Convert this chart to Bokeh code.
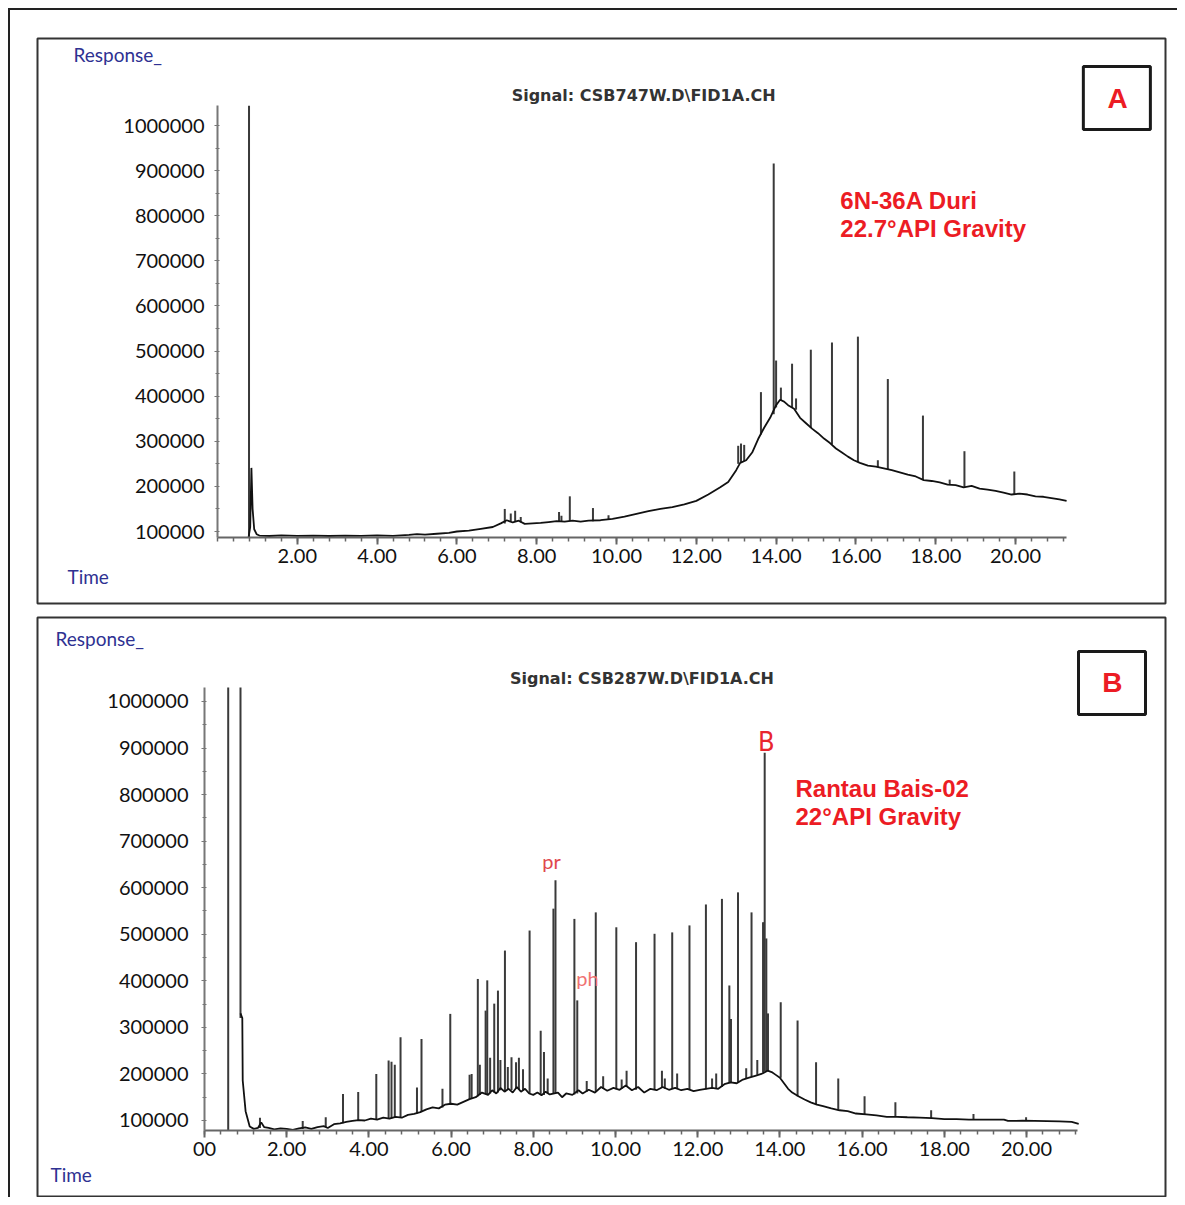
from bokeh.plotting import figure
from bokeh.layouts import column
from bokeh.models import Label, BoxAnnotation, FixedTicker, ColumnDataSource, CustomJSTickFormatter
from bokeh.embed import file_html
from bokeh.resources import INLINE

# ---------------- Panel A data (6N-36A Duri) ----------------
a_base_t = [0.78, 0.82, 0.85, 0.88, 0.92, 0.98, 1.05, 1.3, 1.6, 2.0, 2.4, 2.8, 3.2, 3.6, 4.0, 4.4, 4.8, 5.0,
            5.2, 5.5, 5.8, 6.0, 6.3, 6.6, 6.9, 7.1, 7.25, 7.4, 7.55, 7.7, 7.9, 8.1, 8.3, 8.5, 8.7, 8.9, 9.1,
            9.3, 9.6, 9.9, 10.2, 10.5, 10.8, 11.1, 11.4, 11.7, 12.0, 12.3, 12.6, 12.8, 13.0, 13.1, 13.25,
            13.4, 13.55, 13.7, 13.85, 14.0, 14.1, 14.2, 14.3, 14.45, 14.6, 14.75, 14.9, 15.05, 15.2, 15.35,
            15.5, 15.65, 15.8, 15.95, 16.1, 16.3, 16.5, 16.7, 16.9, 17.1, 17.3, 17.5, 17.7, 17.9, 18.1, 18.3,
            18.5, 18.7, 18.9, 19.1, 19.3, 19.5, 19.7, 19.9, 20.1, 20.3, 20.5, 20.7, 20.9, 21.1, 21.28]
a_base_v = [88000, 110000, 241000, 150000, 105000, 94000, 91000, 90000, 91500, 90500, 91000, 90000, 91000,
            90500, 91500, 90500, 92500, 94000, 93000, 95000, 97000, 100000, 102000, 106000, 110000, 118000,
            125000, 120000, 124000, 117000, 118000, 119000, 121000, 123000, 122000, 124000, 122000, 124000,
            125000, 128000, 133000, 139000, 145000, 150000, 154000, 160000, 168000, 182000, 198000, 210000,
            236000, 252000, 258000, 275000, 305000, 330000, 352000, 380000, 392000, 388000, 380000, 372000,
            352000, 340000, 328000, 318000, 306000, 296000, 284000, 275000, 266000, 258000, 252000, 246000,
            244000, 240000, 236000, 231000, 226000, 222000, 214000, 212000, 209000, 204000, 203000, 198000,
            201000, 195000, 193000, 190000, 186000, 182000, 184000, 182000, 178000, 177000, 174000, 171000,
            168000]
a_peak_t = [0.79, 7.2, 7.35, 7.46, 7.6, 8.56, 8.62, 8.83, 9.41, 9.8, 13.05, 13.12, 13.2, 13.62, 13.94, 14.0,
            14.12, 14.4, 14.5, 14.87, 15.4, 16.05, 16.55, 16.8, 17.68, 18.35, 18.72, 19.97]
a_peak_base = [88000, 118000, 122000, 121000, 120000, 122000, 122000, 123000, 123000, 127000, 250000, 252000,
               256000, 315000, 360000, 375000, 390000, 375000, 370000, 330000, 293000, 254000, 243000, 238000,
               214000, 204000, 198000, 181000]
a_peak_top = [1044000, 150000, 140000, 146000, 132000, 143000, 135000, 178000, 152000, 136000, 290000, 295000,
              292000, 409000, 916000, 479000, 419000, 472000, 395000, 503000, 519000, 532000, 258000, 438000,
              357000, 215000, 278000, 233000]

# ---------------- Panel B data (Rantau Bais-02) ----------------
b_base_t = [0.876, 0.92, 0.93, 1.0, 1.1, 1.2, 1.3, 1.38, 1.45, 1.56, 1.7, 1.85, 2.0, 2.15, 2.3, 2.45, 2.6, 2.75,
            2.9, 3.0, 3.15, 3.3, 3.45, 3.6, 3.75, 3.9, 4.05, 4.2, 4.35, 4.5, 4.65, 4.8, 4.95, 5.1, 5.25, 5.4,
            5.55, 5.7, 5.85, 6.0, 6.15, 6.3, 6.45, 6.6, 6.75, 6.9, 7.0, 7.1, 7.2, 7.3, 7.4, 7.5, 7.6, 7.7,
            7.8, 7.9, 8.0, 8.1, 8.2, 8.3, 8.4, 8.6, 8.7, 8.8, 8.95, 9.1, 9.2, 9.35, 9.5, 9.65, 9.8, 9.95,
            10.1, 10.25, 10.4, 10.55, 10.7, 10.85, 11.0, 11.15, 11.3, 11.45, 11.6, 11.75, 11.9, 12.05, 12.2,
            12.35, 12.5, 12.65, 12.8, 12.95, 13.1, 13.25, 13.4, 13.55, 13.7, 13.8, 13.9, 14.0, 14.1, 14.2,
            14.3, 14.45, 14.6, 14.75, 14.9, 15.05, 15.25, 15.45, 15.65, 15.85, 16.1, 16.35, 16.6, 16.85,
            17.1, 17.4, 17.7, 18.0, 18.3, 18.6, 18.9, 19.2, 19.45, 19.55, 19.9, 20.2, 20.5, 20.8, 21.1, 21.27]
b_base_v = [330000, 320000, 186000, 120000, 87000, 82000, 84000, 96000, 86000, 84000, 81000, 83000, 82000,
            80000, 83000, 85000, 82000, 86000, 88000, 84000, 92000, 94000, 97000, 99000, 101000, 100000,
            104000, 102000, 106000, 104000, 108000, 106000, 112000, 114000, 118000, 124000, 128000, 126000,
            134000, 136000, 134000, 140000, 146000, 150000, 160000, 155000, 165000, 158000, 170000, 162000,
            168000, 160000, 172000, 162000, 168000, 158000, 155000, 160000, 154000, 162000, 156000, 160000,
            150000, 158000, 155000, 165000, 158000, 166000, 160000, 172000, 164000, 170000, 166000, 175000,
            165000, 172000, 160000, 168000, 165000, 172000, 166000, 170000, 165000, 168000, 163000, 166000,
            168000, 170000, 168000, 178000, 182000, 180000, 188000, 192000, 196000, 200000, 207000, 204000,
            198000, 192000, 180000, 168000, 160000, 152000, 145000, 139000, 134000, 131000, 126000, 122000,
            120000, 115000, 113000, 111000, 108000, 108000, 107000, 106000, 105000, 103000, 103000, 102000,
            102000, 102000, 102000, 99000, 99500, 99000, 98500, 98000, 97000, 93000]
b_peak_t = [0.577, 0.876, 1.35, 2.39, 2.95, 3.37, 3.74, 4.18, 4.48, 4.55, 4.63, 4.77, 5.17, 5.28, 5.79, 5.98,
            6.5, 6.65, 6.84, 6.88, 7.05, 7.14, 7.31, 7.47, 7.65, 7.91, 8.18, 8.26, 8.49, 8.54, 9.0, 9.07,
            9.52, 10.02, 10.27, 10.5, 10.95, 11.13, 11.38, 11.5, 11.8, 12.2, 12.45, 12.59, 12.77, 12.81,
            12.98, 13.18, 13.31, 13.59, 13.63, 13.67, 13.71, 14.02, 14.43, 14.88, 15.42, 16.06, 16.81,
            17.68, 18.71, 19.99,
            6.45, 6.7, 6.95, 7.2, 7.38, 7.58, 7.75, 8.35, 9.3, 9.7, 10.15, 11.2, 12.35, 13.45]
b_peak_base = [78500, 320000, 84000, 82000, 86000, 94000, 100000, 102000, 104000, 105000, 106000, 106000,
               115000, 118000, 128000, 134000, 146000, 152000, 157000, 156000, 160000, 160000, 162000, 165000,
               166000, 158000, 155000, 155000, 158000, 158000, 156000, 158000, 162000, 167000, 172000, 166000,
               166000, 170000, 168000, 168000, 166000, 167000, 169000, 172000, 180000, 182000, 181000, 190000,
               194000, 203000, 205000, 206000, 206000, 192000, 152000, 135000, 123000, 113000, 108000, 105000,
               102000, 99500,
               146000, 155000, 158000, 165000, 166000, 168000, 164000, 158000, 162000, 168000, 168000, 168000,
               170000, 198000]
b_peak_top = [1030000, 1030000, 106000, 99000, 107000, 157000, 161000, 200000, 229000, 226000, 220000, 279000,
              171000, 275000, 168000, 329000, 200000, 404000, 336000, 401000, 351000, 379000, 465000, 236000,
              235000, 508000, 293000, 247000, 555000, 616000, 533000, 358000, 547000, 515000, 207000, 483000,
              501000, 207000, 504000, 201000, 519000, 564000, 201000, 576000, 390000, 318000, 590000, 212000,
              547000, 526000, 890000, 491000, 330000, 354000, 315000, 225000, 190000, 152000, 139000, 122000,
              114000, 107000,
              198000, 220000, 235000, 230000, 215000, 225000, 210000, 190000, 185000, 195000, 188000, 190000,
              190000, 230000]

y_ticks = [100000, 200000, 300000, 400000, 500000, 600000, 700000, 800000, 900000, 1000000]
a_x_ticks = [2, 4, 6, 8, 10, 12, 14, 16, 18, 20]
b_x_ticks = [0, 2, 4, 6, 8, 10, 12, 14, 16, 18, 20]

RED = "#ec1c24"
NAVY = "#2e3192"


def make_panel(x_range, y_range, x_ticks, x_axis_at, x_bounds, y_bounds, height, top, bottom, y_standoff):
    p = figure(width=1167, height=height, x_range=x_range, y_range=y_range,
               output_backend="svg", toolbar_location=None, title=None,
               min_border_left=27, min_border_right=12, min_border_top=top, min_border_bottom=bottom)
    p.outline_line_color = "#333333"
    p.outline_line_width = 2
    p.xgrid.visible = False
    p.ygrid.visible = False
    p.background_fill_color = "white"
    p.border_fill_color = "white"

    xa = p.xaxis[0]
    xa.fixed_location = x_axis_at
    xa.bounds = x_bounds
    minor = [round(0.4 * i, 2) for i in range(0, 54) if round(0.4 * i, 2) <= x_bounds[1]]
    xa.ticker = FixedTicker(ticks=x_ticks, minor_ticks=minor)
    xa.formatter = CustomJSTickFormatter(code="return tick === 0 ? '00' : tick.toFixed(2);")
    xa.axis_line_color = "#666666"
    xa.axis_line_width = 2
    xa.major_tick_line_color = "#666666"
    xa.minor_tick_line_color = "#666666"
    xa.major_tick_in = 0
    xa.major_tick_out = 7
    xa.minor_tick_in = 0
    xa.minor_tick_out = 4
    xa.major_tick_line_width = 2
    xa.minor_tick_line_width = 1.5
    xa.major_label_standoff = 4
    xa.major_label_text_font = "Lato"
    xa.major_label_text_font_size = "20px"
    xa.major_label_text_color = "#111111"

    ya = p.yaxis[0]
    ya.fixed_location = 0
    ya.bounds = y_bounds
    ya.ticker = FixedTicker(ticks=y_ticks, minor_ticks=[150000, 250000, 350000, 450000, 550000, 650000,
                                                        750000, 850000, 950000])
    ya.formatter = CustomJSTickFormatter(code="return tick.toFixed(0);")
    ya.axis_line_color = "#777777"
    ya.axis_line_width = 2
    ya.major_tick_line_color = "#777777"
    ya.minor_tick_line_color = "#777777"
    ya.major_tick_in = 2
    ya.major_tick_out = 3
    ya.minor_tick_in = 2
    ya.minor_tick_out = 2
    ya.major_label_standoff = y_standoff
    ya.major_label_text_font = "Lato"
    ya.major_label_text_font_size = "20px"
    ya.major_label_text_color = "#111111"
    return p


def add_trace(p, bt, bv, pt, pb, ptop):
    seg = ColumnDataSource(dict(t=pt, base=pb, top=ptop))
    p.segment(x0="t", y0="base", x1="t", y1="top", source=seg, line_color="#3a3a3a", line_width=2)
    p.line(bt, bv, line_color="#111111", line_width=1.8)


def txt(p, x, y, text, size, color, font="Liberation Sans", style="normal", align="left", baseline="middle"):
    p.add_layout(Label(x=x, y=y, text=text, text_font=font, text_font_size=size, text_color=color,
                       text_font_style=style, text_align=align, text_baseline=baseline))


# ---------------- Panel A ----------------
pA = make_panel((-4.511, 23.759), (-59600, 1192900), a_x_ticks, 86700, (0, 21.28), (86700, 1044000),
                600, 28, 7, 10)
add_trace(pA, a_base_t, a_base_v, a_peak_t, a_peak_base, a_peak_top)
txt(pA, -3.609, 1157500, "Response_", "19px", NAVY, font="Lato")
txt(pA, -3.759, 0, "Time", "19px", NAVY, font="Lato")
txt(pA, 10.68, 1066600, "Signal: CSB747W.D\\FID1A.CH", "16px", "#333333", font="DejaVu Sans",
    style="bold", align="center")
txt(pA, 15.61, 833800, "6N-36A Duri", "24px", RED, style="bold")
txt(pA, 15.61, 771700, "22.7°API Gravity", "24px", RED, style="bold")
pA.add_layout(BoxAnnotation(left=21.70, right=23.38, top=1130900, bottom=991200,
                            fill_color=None, line_color="#1a1a1a", line_alpha=1.0, line_width=3))
txt(pA, 22.56, 1060000, "A", "28px", RED, style="bold", align="center")

# ---------------- Panel B ----------------
pB = make_panel((-4.063, 23.382), (-63233, 1180343), b_x_ticks, 78500, (0, 21.25), (78500, 1030000),
                587, 7, 1, 13)
add_trace(pB, b_base_t, b_base_v, b_peak_t, b_peak_base, b_peak_top)
txt(pB, -3.625, 1135200, "Response_", "19px", NAVY, font="Lato")
txt(pB, -3.747, -15981, "Time", "19px", NAVY, font="Lato")
txt(pB, 10.645, 1049300, "Signal: CSB287W.D\\FID1A.CH", "16px", "#333333", font="DejaVu Sans",
    style="bold", align="center")
txt(pB, 14.38, 813100, "Rantau Bais-02", "24px", RED, style="bold")
txt(pB, 14.38, 752900, "22°API Gravity", "24px", RED, style="bold")
pB.add_layout(BoxAnnotation(left=21.265, right=22.895, top=1107300, bottom=972000,
                            fill_color=None, line_color="#1a1a1a", line_alpha=1.0, line_width=3))
txt(pB, 22.09, 1040700, "B", "28px", RED, style="bold", align="center")
txt(pB, 13.67, 914000, "B", "27px", "#e8262e", font="'DejaVu Sans Condensed', 'Liberation Sans', sans-serif",
    align="center")
txt(pB, 8.443, 658400, "pr", "20px", "#e0474c", font="Lato", align="center")
txt(pB, 9.32, 405000, "ph", "20px", "#f07272", font="Lato", align="center")

layout = column(pA, pB, styles={"border-left": "2px solid #222222", "border-top": "2px solid #222222",
                                "margin-left": "8px", "margin-top": "8px"})

open("out.html", "w").write(file_html(layout, INLINE))
